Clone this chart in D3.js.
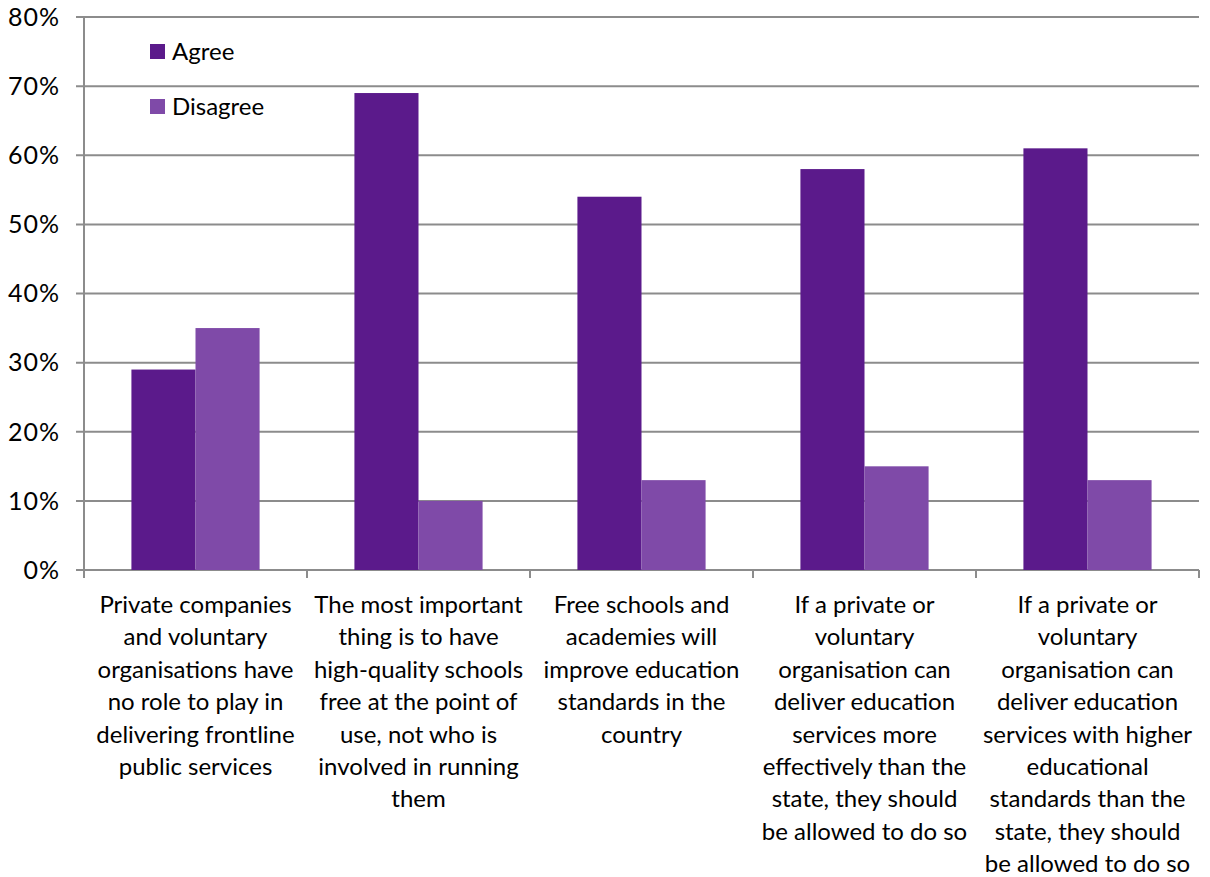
<!DOCTYPE html>
<html>
<head>
<meta charset="utf-8">
<script src="https://cdn.jsdelivr.net/npm/d3@7"></script>
<style>
  body { margin: 0; background: #fff; }
  svg text { font-family: Lato, "Open Sans", sans-serif; fill: #000; }
</style>
</head>
<body>
<svg id="chart" width="1210" height="877"></svg>
<script>
const categories = [
  "Private companies|and voluntary|organisations have|no role to play in|delivering frontline|public services",
  "The most important|thing is to have|high-quality schools|free at the point of|use, not who is|involved in running|them",
  "Free schools and|academies will|improve education|standards in the|country",
  "If a private or|voluntary|organisation can|deliver education|services more|effectively than the|state, they should|be allowed to do so",
  "If a private or|voluntary|organisation can|deliver education|services with higher|educational|standards than the|state, they should|be allowed to do so"
];
const seriesNames = ["Agree", "Disagree"];
const agree = [29, 69, 54, 58, 61];
const disagree = [35, 10, 13, 15, 13];
const yTicks = [0, 10, 20, 30, 40, 50, 60, 70, 80];
const colors = ["#5B1A8B", "#7F4AA8"];

(function () {
const svg = d3.select("#chart");
const pLeft = 84, pRight = 1199, pTop = 17, pBottom = 570;
const fs = 24;

const x0 = d3.scaleBand().domain(d3.range(categories.length)).range([pLeft, pRight]).paddingInner(0).paddingOuter(0);
const x1 = d3.scaleBand().domain(seriesNames).range([0, x0.bandwidth()]).paddingOuter(0.74).paddingInner(0);
const y = d3.scaleLinear().domain([0, 80]).range([pBottom, pTop]);

svg.append("g").selectAll("line").data(yTicks).join("line")
  .attr("x1", pLeft - 8).attr("x2", pRight)
  .attr("y1", d => y(d)).attr("y2", d => y(d))
  .attr("stroke", "#8c8c8c").attr("stroke-width", 2);

svg.append("line").attr("x1", pLeft).attr("x2", pLeft).attr("y1", pTop).attr("y2", pBottom + 8)
  .attr("stroke", "#8c8c8c").attr("stroke-width", 2);

const bounds = d3.range(categories.length + 1).map(i => i < categories.length ? x0(i) : x0(i - 1) + x0.bandwidth());
svg.append("g").selectAll("line").data(bounds).join("line")
  .attr("x1", d => d).attr("x2", d => d).attr("y1", pBottom).attr("y2", pBottom + 8)
  .attr("stroke", "#8c8c8c").attr("stroke-width", 2);

svg.append("g").selectAll("text").data(yTicks).join("text")
  .attr("x", 60).attr("y", d => y(d)).attr("dy", "0.35em")
  .attr("text-anchor", "end").attr("font-size", 25).attr("letter-spacing", 1)
  .text(d => d + "%");

const data = categories.map((c, i) => ({ i, vals: [agree[i], disagree[i]] }));
const groups = svg.append("g").selectAll("g").data(data).join("g")
  .attr("transform", d => `translate(${x0(d.i)},0)`);
groups.selectAll("rect").data(d => d.vals.map((v, k) => ({ k, v }))).join("rect")
  .attr("x", d => x1(seriesNames[d.k]))
  .attr("width", x1.bandwidth())
  .attr("y", d => y(d.v))
  .attr("height", d => y(0) - y(d.v))
  .attr("fill", d => colors[d.k]);

const lab = svg.append("g").selectAll("text").data(categories).join("text")
  .attr("text-anchor", "middle").attr("font-size", fs)
  .attr("transform", (d, i) => `translate(${x0(i) + x0.bandwidth() / 2},613)`);
lab.selectAll("tspan").data(d => d.split("|")).join("tspan")
  .attr("x", 0).attr("y", (d, j) => j * 32.4)
  .text(d => d);

const leg = svg.append("g").selectAll("g").data(seriesNames).join("g")
  .attr("transform", (d, i) => `translate(150,${44 + i * 55})`);
leg.append("rect").attr("width", 15).attr("height", 15).attr("fill", (d, i) => colors[i]);
leg.append("text").attr("x", 22).attr("y", 7.5).attr("dy", "0.35em").attr("font-size", fs).text(d => d);
})();
</script>
</body>
</html>
